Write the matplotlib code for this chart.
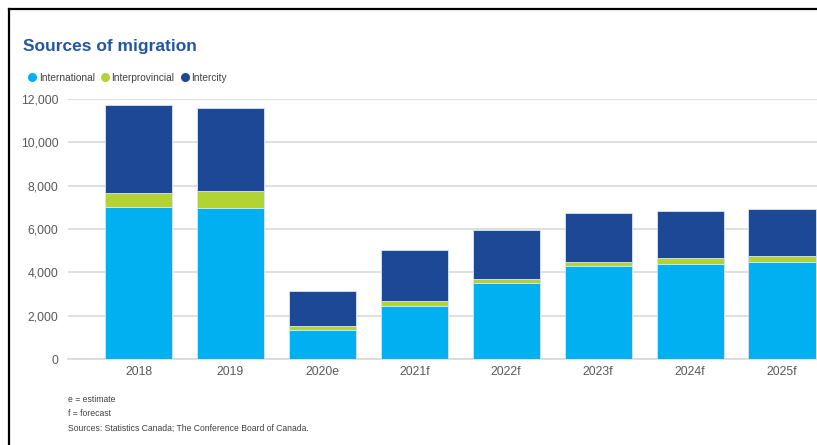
import matplotlib.pyplot as plt
from matplotlib.lines import Line2D

plt.rcParams['font.family'] = ['Liberation Sans', 'DejaVu Sans']

years = ['2018', '2019', '2020e', '2021f', '2022f', '2023f', '2024f', '2025f']
international = [7010, 6980, 1320, 2430, 3490, 4290, 4400, 4490]
interprovincial = [650, 785, 185, 250, 200, 200, 245, 265]
intercity = [4070, 3815, 1615, 2370, 2280, 2230, 2170, 2170]

c_intl = '#00b0f0'
c_prov = '#b3d335'
c_city = '#1c4896'
grey = '#595959'

fig = plt.figure(figsize=(8.17, 4.45), dpi=100)
ax = fig.add_axes([68 / 817, 86 / 445, 1 - 68 / 817, 260 / 445])

x = range(len(years))
w = 0.73
edge = dict(edgecolor='#d6e6f5', linewidth=0.6)
ax.bar(x, international, w, color=c_intl, zorder=2, **edge)
base = [a for a in international]
ax.bar(x, interprovincial, w, bottom=base, color=c_prov, zorder=2, **edge)
base = [a + b for a, b in zip(international, interprovincial)]
ax.bar(x, intercity, w, bottom=base, color=c_city, zorder=2, **edge)

ax.set_xlim(-0.767, 7.381)
ax.set_ylim(0, 12000)
ax.set_yticks(range(0, 12001, 2000))
ax.set_yticklabels([f'{v:,}' for v in range(0, 12001, 2000)])
ax.set_xticks(list(x))
ax.set_xticklabels(years)
ax.tick_params(length=0, labelsize=8.8, labelcolor=grey)
ax.tick_params(axis='y', pad=7)
ax.tick_params(axis='x', pad=5)
ax.grid(axis='y', color='#d9d9d9', linewidth=1.2, zorder=0)
ax.set_axisbelow(True)
for s in ax.spines.values():
    s.set_visible(False)
ax.axhline(0, color='#d9d9d9', linewidth=1.2, zorder=1, clip_on=False)

fig.text(23 / 817, 1 - 47 / 445, 'Sources of migration', fontsize=12.5,
         fontweight='bold', color='#2456a4', va='center', ha='left')

handles = [Line2D([], [], marker='o', linestyle='', markersize=5.5, color=c)
           for c in (c_intl, c_prov, c_city)]
fig.legend(handles, ['International', 'Interprovincial', 'Intercity'],
           loc='center left', bbox_to_anchor=(21 / 817, 1 - 78 / 445), ncol=3,
           frameon=False, fontsize=7.3, handletextpad=0.05, columnspacing=0.4,
           handlelength=1.2, borderpad=0, labelcolor='#404040')

notes = ['e = estimate', 'f = forecast',
         'Sources: Statistics Canada; The Conference Board of Canada.']
for i, t in enumerate(notes):
    fig.text(68 / 817, 1 - (399 + 14.5 * i) / 445, t, fontsize=6.2,
             color='#404040', va='center', ha='left')

# outer frame (left and top edges)
fig.add_artist(Line2D([9 / 817, 9 / 817], [0, 1 - 9 / 445], color='black',
                      linewidth=1.6, transform=fig.transFigure))
fig.add_artist(Line2D([9 / 817, 1], [1 - 9 / 445, 1 - 9 / 445], color='black',
                      linewidth=1.6, transform=fig.transFigure))

fig.savefig('out.png', dpi=100)
